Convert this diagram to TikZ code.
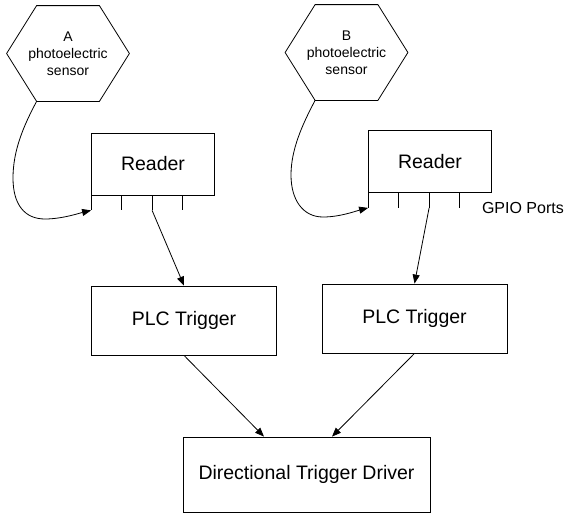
\documentclass[tikz,border=0pt]{standalone}
\usepackage{fontspec}
\setmainfont{Liberation Sans}
\usetikzlibrary{positioning,calc,arrows.meta}
\tikzset{
  sensor/.style={minimum width=122pt, minimum height=95pt, inner sep=0pt, align=center, font=\fontsize{14}{17}\selectfont},
  reader/.style={draw, minimum width=123pt, minimum height=62pt, inner sep=0pt, font=\fontsize{19.5}{23}\selectfont},
  plc/.style={draw, minimum width=185pt, minimum height=69pt, inner sep=0pt, font=\fontsize{19.5}{23}\selectfont},
  link/.style={-{Triangle[length=9pt,width=7pt]}},
}

\begin{document}
\begin{tikzpicture}[x=1pt, y=-1pt, line width=0.8pt]
        \useasboundingbox (0,0) rectangle (569,514);

        % sensors
        \node[sensor] (senA) at (68,53.5) {A\\photoelectric\\sensor};
        \node[sensor] (senB) at (346.5,52.5) {B\\photoelectric\\sensor};
        \foreach \s in {senA,senB}
            \draw ($(\s.north west)+(30,0)$) -- ($(\s.north east)+(-30,0)$) -- (\s.east)
                -- ($(\s.south east)+(-30,0)$) -- ($(\s.south west)+(30,0)$) -- (\s.west) -- cycle;

        % readers with their ports
        \node[reader] (readA) at (153,164) {Reader};
        \node[reader] (readB) at (430,161.5) {Reader};
        \foreach \r in {readA,readB}
            \foreach \i/\dx in {0/0,1/30.5,2/61,3/91.5}
                \draw ($(\r.south west)+(\dx,0)$) -- ++(0,15) coordinate (\r-p\i);
        \node[right=22pt of readB-p3, inner sep=0pt, font=\fontsize{16}{19}\selectfont] (gpio) {GPIO Ports};

        \node[plc] (plcA) at (184,320.5) {PLC Trigger};
        \node[plc] (plcB) at (414.5,318.5) {PLC Trigger};
        \node[draw, minimum width=247pt, minimum height=75pt, inner sep=0pt,
            font=\fontsize{19.5}{23}\selectfont] (driver) at (306.5,474.5) {Directional Trigger Driver};

        \draw[link] ($(senA.south west)+(30,0)$) .. controls (24,125) and (13,150) .. (13,178)
            .. controls (13,205) and (25,219) .. (45,219)
            .. controls (62,219) and (80,213) .. (readA-p0);
        \draw[link] ($(senB.south west)+(30,0)$) .. controls (302,125) and (291,150) .. (291,175)
            .. controls (291,200) and (303,217) .. (323,217)
            .. controls (340,217) and (356,211) .. (readB-p0);

        \draw[link] (readA-p2) -- (plcA.north);
        \draw[link] (readB-p2) -- (plcB.north);
        \draw[link] (plcA.south) -- ($(driver.north)+(-42.5,0)$);
        \draw[link] (plcB.south) -- ($(driver.north)+(25.5,0)$);
    \end{tikzpicture}
\end{document}
